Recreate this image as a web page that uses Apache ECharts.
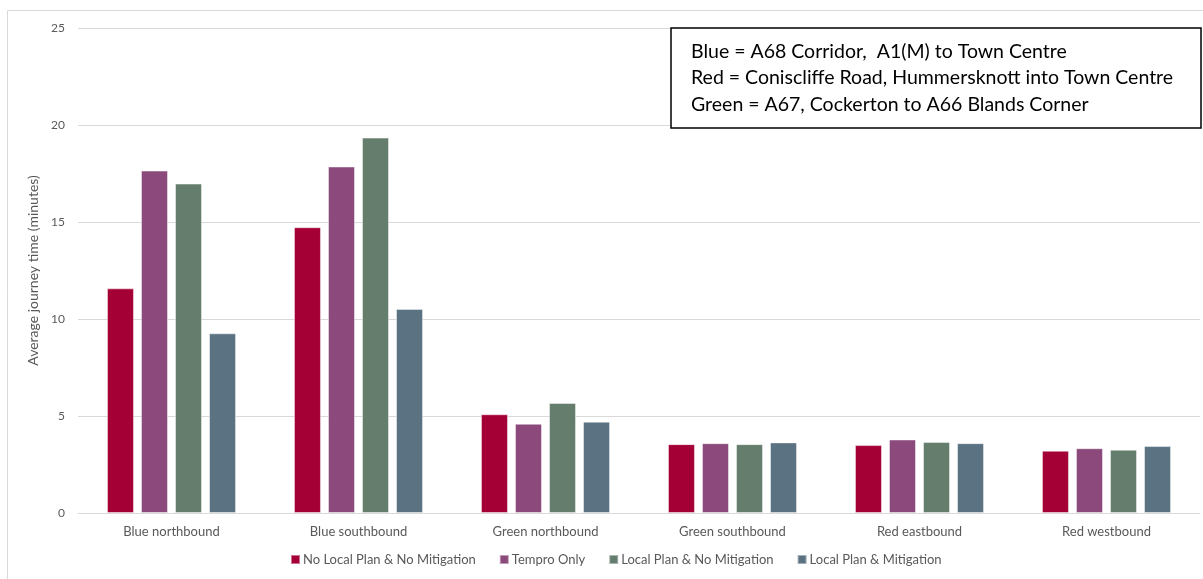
<!DOCTYPE html>
<html><head><meta charset="utf-8">
<script src="https://cdn.jsdelivr.net/npm/echarts@6/dist/echarts.min.js"></script>
<style>html,body{margin:0;padding:0;background:#fff}#c{width:1203px;height:579px}</style>
</head><body><div id="c"></div>
<script>
const categories = ['Blue northbound','Blue southbound','Green northbound','Green southbound','Red eastbound','Red westbound'];
const seriesNames = ['No Local Plan & No Mitigation','Tempro Only','Local Plan & No Mitigation','Local Plan & Mitigation'];
const noPlanNoMit = [11.58, 14.73, 5.09, 3.55, 3.50, 3.21];
const temproOnly = [17.65, 17.86, 4.60, 3.60, 3.79, 3.34];
const planNoMit = [16.98, 19.35, 5.67, 3.55, 3.66, 3.26];
const planMit = [9.26, 10.52, 4.71, 3.64, 3.60, 3.45];
const yTicks = [0, 5, 10, 15, 20, 25];
const noteLines = ['Blue = A68 Corridor,  A1(M) to Town Centre','Red = Coniscliffe Road, Hummersknott into Town Centre','Green = A67, Cockerton to A66 Blands Corner'];
const colors = ['#a50036','#8b4a7b','#657d6d','#5a7282'];
const values = [noPlanNoMit, temproOnly, planNoMit, planMit];
const font = 'Lato, "Open Sans", sans-serif';
const chart = echarts.init(document.getElementById('c'));
chart.setOption({
  animation: false,
  textStyle: {fontFamily: font},
  grid: {left: 78, right: 3, top: 28, bottom: 66, containLabel: false},
  legend: {
    bottom: 8, left: 285, itemWidth: 9, itemHeight: 9, itemGap: 23,
    icon: 'rect',
    textStyle: {color: '#595959', fontSize: 13, fontFamily: font, padding: [0,0,0,-2]},
    data: seriesNames
  },
  xAxis: {
    type: 'category', data: categories,
    axisLine: {lineStyle: {color: '#d9d9d9'}},
    axisTick: {show: false},
    axisLabel: {color: '#595959', fontSize: 13, margin: 12, fontFamily: font}
  },
  yAxis: {
    type: 'value', min: yTicks[0], max: yTicks[yTicks.length-1], interval: 5,
    name: 'Average journey time (minutes)', nameLocation: 'middle', nameGap: 29,
    nameTextStyle: {color: '#595959', fontSize: 14, fontFamily: font},
    axisLine: {show: false}, axisTick: {show: false},
    axisLabel: {color: '#595959', fontSize: 12, margin: 13, fontFamily: font},
    splitLine: {lineStyle: {color: '#d9d9d9'}}
  },
  series: seriesNames.map((n, i) => ({
    name: n, type: 'bar', data: values[i],
    barWidth: 27, barGap: '26%',
    itemStyle: {color: colors[i], borderColor: 'rgba(255,255,255,0.45)', borderWidth: 1}
  })),
  graphic: [
    {type: 'rect', shape: {x: 7.5, y: 10.5, width: 1200, height: 600}, style: {fill: 'none', stroke: '#d9d9d9', lineWidth: 1}, silent: true, z: -1},
    {type: 'rect', shape: {x: 671, y: 28, width: 530, height: 100}, style: {fill: '#fff', stroke: '#000', lineWidth: 1.5}, z: 10},
    {type: 'text', left: 691, top: 38, z: 11, style: {text: noteLines.join('\n'), fill: '#000', font: '19.5px ' + font, lineHeight: 26.5}}
  ]
});
</script></body></html>
